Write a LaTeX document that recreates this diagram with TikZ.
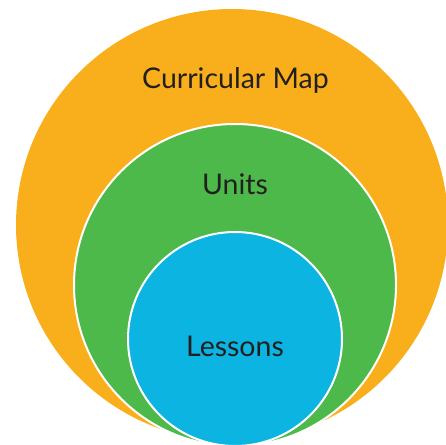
\documentclass[tikz,border=0pt]{standalone}
\usepackage{fontspec}
\setmainfont{Lato}
\usetikzlibrary{positioning}

\definecolor{mapcol}{HTML}{F9AF1B}
\definecolor{unitcol}{HTML}{4DB94A}
\definecolor{lessoncol}{HTML}{0BB4E1}
\definecolor{textcol}{HTML}{231F20}

\begin{document}
\begin{tikzpicture}[x=1pt,y=1pt]
            \tikzstyle{every node}=[inner sep=0pt]
            \tikzstyle{ring}=[circle,draw=white,line width=2pt]
            \tikzstyle{caption}=[text=textcol,font=\fontsize{28.5}{34}\selectfont,anchor=base]
            \useasboundingbox (0,0) rectangle (446,444);
            \clip (0,0) rectangle (446,444);
            % nested circles
            \node[circle,fill=mapcol,minimum size=432pt] (map) at (232,219) {};
            \node[ring,fill=unitcol,minimum size=322pt] (units) at (235,159) {};
            \node[ring,fill=lessoncol,minimum size=214pt] (lessons) at (235,105) {};
            % captions
            \node[below=80pt of map.north,caption,xshift=3.5pt] (maptext) {Curricular Map};
            \node[below=72pt of units.north,caption] (unitstext) {Units};
            \node[below=125pt of lessons.north,caption] (lessonstext) {Lessons};
\end{tikzpicture}
\end{document}
